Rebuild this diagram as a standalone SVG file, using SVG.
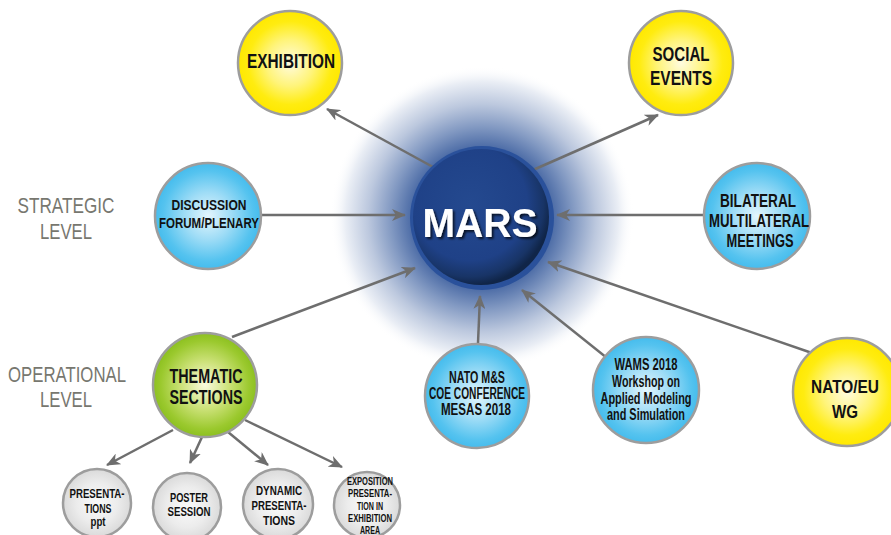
<svg xmlns="http://www.w3.org/2000/svg" width="891" height="535" viewBox="0 0 891 535">
<defs>
<radialGradient id="gYellow" cx="0.5" cy="0.5" r="0.5">
<stop offset="0" stop-color="#fffbe0"/>
<stop offset="0.45" stop-color="#fff47a"/>
<stop offset="0.8" stop-color="#ffec10"/>
<stop offset="1" stop-color="#ffe800"/>
</radialGradient>
<radialGradient id="gBlue" cx="0.5" cy="0.5" r="0.5">
<stop offset="0" stop-color="#e4f6fd"/>
<stop offset="0.45" stop-color="#9edcf6"/>
<stop offset="0.85" stop-color="#55c3ef"/>
<stop offset="1" stop-color="#45bced"/>
</radialGradient>
<radialGradient id="gGreen" cx="0.5" cy="0.5" r="0.5">
<stop offset="0" stop-color="#fafade"/>
<stop offset="0.45" stop-color="#cde27a"/>
<stop offset="0.85" stop-color="#9bc92e"/>
<stop offset="1" stop-color="#8cc020"/>
</radialGradient>
<radialGradient id="gGray" cx="0.5" cy="0.5" r="0.5">
<stop offset="0" stop-color="#fafafa"/>
<stop offset="0.6" stop-color="#ececec"/>
<stop offset="1" stop-color="#dadada"/>
</radialGradient>
<radialGradient id="gGlow" cx="482" cy="218" r="152" gradientUnits="userSpaceOnUse">
<stop offset="0" stop-color="#3a5c9c"/>
<stop offset="0.46" stop-color="#4a6aa5"/>
<stop offset="0.6" stop-color="#8299c2"/>
<stop offset="0.75" stop-color="#bcc8de"/>
<stop offset="0.9" stop-color="#eaeef5"/>
<stop offset="1" stop-color="#ffffff" stop-opacity="0"/>
</radialGradient>
<radialGradient id="gMars" cx="0.42" cy="0.4" r="0.6">
<stop offset="0" stop-color="#24498f"/>
<stop offset="0.7" stop-color="#1f4187"/>
<stop offset="0.9" stop-color="#183466"/>
<stop offset="1" stop-color="#102548"/>
</radialGradient>
<filter id="shadow" x="-20%" y="-20%" width="140%" height="140%">
<feDropShadow dx="2" dy="2" stdDeviation="1" flood-color="#000" flood-opacity="0.7"/>
</filter>
<marker id="arrow" viewBox="0 0 14 12" refX="13" refY="6" markerWidth="14" markerHeight="12" markerUnits="userSpaceOnUse" orient="auto">
<path d="M0,0 L14,6 L0,12 L4,6 z" fill="#6e6e6e"/>
</marker>
<style>
.node circle{stroke:#9d9d9d;stroke-width:2.5}
.y{fill:url(#gYellow)}
.b{fill:url(#gBlue)}
.g{fill:url(#gGreen)}
.s{fill:url(#gGray)}
text{font-family:"Liberation Sans",Arial,sans-serif;font-weight:bold;text-anchor:middle;fill:#111}
.lvl{font-weight:normal;fill:#77776f;font-size:22px}
#connectors path{stroke:#6e6e6e;stroke-width:2.5;fill:none;marker-end:url(#arrow)}
</style>
</defs>
<rect width="891" height="535" fill="#ffffff"/>
<circle cx="482" cy="218" r="152" fill="url(#gGlow)"/>

<g id="labels">
<text class="lvl" x="66" y="213" textLength="97" lengthAdjust="spacingAndGlyphs">STRATEGIC</text>
<text class="lvl" x="66" y="239" textLength="52" lengthAdjust="spacingAndGlyphs">LEVEL</text>
<text class="lvl" x="67" y="382" textLength="118" lengthAdjust="spacingAndGlyphs">OPERATIONAL</text>
<text class="lvl" x="66" y="407" textLength="52" lengthAdjust="spacingAndGlyphs">LEVEL</text>
</g>

<g id="connectors">
<path d="M433,167 L327,109"/>
<path d="M533,170 L658,115"/>
<path d="M262,215 L405,215"/>
<path d="M704,215 L557,215"/>
<path d="M232,337 L415,268"/>
<path d="M478,343 L480,296"/>
<path d="M607,358 L522,290"/>
<path d="M812,353 L548,262"/>
<path d="M173,430 L107,465"/>
<path d="M202,437 L190,463"/>
<path d="M228,432 L268,465"/>
<path d="M245,420 L342,467"/>
</g>

<g id="mars">
<circle cx="482" cy="218" r="72" fill="#2a519b"/>
<circle cx="481" cy="217" r="68" fill="url(#gMars)"/>
<text x="480" y="237" font-size="40" textLength="115" lengthAdjust="spacingAndGlyphs" style="fill:#fff" filter="url(#shadow)">MARS</text>
</g>

<g id="exhibition" class="node">
<circle class="y" cx="290" cy="63" r="52"/>
<text x="291" y="68" font-size="21" textLength="88" lengthAdjust="spacingAndGlyphs">EXHIBITION</text>
</g>

<g id="social" class="node">
<circle class="y" cx="681" cy="63" r="52"/>
<text x="681" y="61" font-size="20" textLength="57" lengthAdjust="spacingAndGlyphs">SOCIAL</text>
<text x="681" y="85" font-size="20" textLength="62" lengthAdjust="spacingAndGlyphs">EVENTS</text>
</g>

<g id="discussion" class="node">
<circle class="b" cx="208" cy="216" r="53"/>
<text x="209" y="210" font-size="14.5" textLength="75" lengthAdjust="spacingAndGlyphs">DISCUSSION</text>
<text x="209" y="228" font-size="14.5" textLength="100" lengthAdjust="spacingAndGlyphs">FORUM/PLENARY</text>
</g>

<g id="bilateral" class="node">
<circle class="b" cx="757" cy="216" r="53"/>
<text x="758" y="207" font-size="18" textLength="76" lengthAdjust="spacingAndGlyphs">BILATERAL</text>
<text x="759" y="227" font-size="18" textLength="100" lengthAdjust="spacingAndGlyphs">MULTILATERAL</text>
<text x="760" y="247" font-size="18" textLength="67" lengthAdjust="spacingAndGlyphs">MEETINGS</text>
</g>

<g id="thematic" class="node">
<circle class="g" cx="205" cy="385" r="52"/>
<text x="206" y="383" font-size="21" textLength="73" lengthAdjust="spacingAndGlyphs">THEMATIC</text>
<text x="206" y="404" font-size="21" textLength="73" lengthAdjust="spacingAndGlyphs">SECTIONS</text>
</g>

<g id="natoms" class="node">
<circle class="b" cx="477" cy="396" r="52"/>
<text x="477" y="383" font-size="16" textLength="56" lengthAdjust="spacingAndGlyphs">NATO M&amp;S</text>
<text x="477" y="399" font-size="16" textLength="96" lengthAdjust="spacingAndGlyphs">COE CONFERENCE</text>
<text x="476" y="415" font-size="16" textLength="70" lengthAdjust="spacingAndGlyphs">MESAS 2018</text>
</g>

<g id="wams" class="node">
<circle class="b" cx="646" cy="390" r="53"/>
<text x="646" y="370" font-size="16" textLength="63" lengthAdjust="spacingAndGlyphs">WAMS 2018</text>
<text x="646" y="387" font-size="16" textLength="68" lengthAdjust="spacingAndGlyphs">Workshop on</text>
<text x="646" y="404" font-size="16" textLength="91" lengthAdjust="spacingAndGlyphs">Applied Modeling</text>
<text x="646" y="420" font-size="16" textLength="78" lengthAdjust="spacingAndGlyphs">and Simulation</text>
</g>

<g id="natoeu" class="node">
<circle class="y" cx="847" cy="392" r="54"/>
<text x="845" y="393" font-size="18" textLength="68" lengthAdjust="spacingAndGlyphs">NATO/EU</text>
<text x="845" y="418" font-size="18" textLength="26" lengthAdjust="spacingAndGlyphs">WG</text>
</g>

<g id="presentations" class="node">
<circle class="s" cx="97" cy="503" r="34"/>
<text x="97" y="498" font-size="12" textLength="55" lengthAdjust="spacingAndGlyphs">PRESENTA-</text>
<text x="98" y="513" font-size="12" textLength="27" lengthAdjust="spacingAndGlyphs">TIONS</text>
<text x="98" y="526" font-size="12" textLength="15" lengthAdjust="spacingAndGlyphs">ppt</text>
</g>

<g id="poster" class="node">
<circle class="s" cx="187" cy="507" r="34"/>
<text x="189" y="502" font-size="12" textLength="38" lengthAdjust="spacingAndGlyphs">POSTER</text>
<text x="189" y="516" font-size="12" textLength="43" lengthAdjust="spacingAndGlyphs">SESSION</text>
</g>

<g id="dynamic" class="node">
<circle class="s" cx="278" cy="504" r="35"/>
<text x="279" y="495" font-size="12" textLength="46" lengthAdjust="spacingAndGlyphs">DYNAMIC</text>
<text x="279" y="510" font-size="12" textLength="55" lengthAdjust="spacingAndGlyphs">PRESENTA-</text>
<text x="279" y="525" font-size="12" textLength="32" lengthAdjust="spacingAndGlyphs">TIONS</text>
</g>

<g id="exposition" class="node">
<circle class="s" cx="367" cy="505" r="33"/>
<text x="370" y="485" font-size="10" textLength="46" lengthAdjust="spacingAndGlyphs">EXPOSITION</text>
<text x="370" y="497" font-size="10" textLength="44" lengthAdjust="spacingAndGlyphs">PRESENTA-</text>
<text x="370" y="510" font-size="10" textLength="26" lengthAdjust="spacingAndGlyphs">TION IN</text>
<text x="370" y="522" font-size="10" textLength="44" lengthAdjust="spacingAndGlyphs">EXHIBITION</text>
<text x="370" y="534" font-size="10" textLength="20" lengthAdjust="spacingAndGlyphs">AREA</text>
</g>
</svg>
